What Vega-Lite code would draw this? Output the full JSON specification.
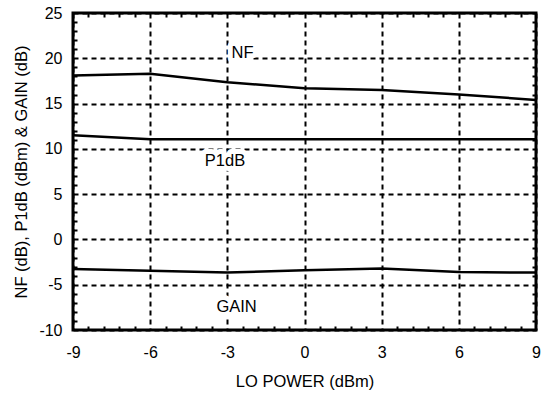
{
  "$schema": "https://vega.github.io/schema/vega-lite/v6.json",
  "width": 463,
  "height": 317,
  "autosize": {"type": "none"},
  "padding": {"left": 73, "top": 13, "right": 5, "bottom": 66},
  "background": "white",
  "config": {
    "view": {"stroke": "black", "strokeWidth": 3},
    "font": "Liberation Sans",
    "axis": {"labelColor": "black", "titleColor": "black", "labelFont": "Liberation Sans", "titleFont": "Liberation Sans", "labelFontSize": 16, "titleFontSize": 16.5, "titleFontWeight": "normal"}
  },
  "datasets": {
    "lines": [
      {"series": "NF", "lo": -9, "val": 18.1},
      {"series": "NF", "lo": -6, "val": 18.3},
      {"series": "NF", "lo": -3, "val": 17.35},
      {"series": "NF", "lo": 0, "val": 16.7},
      {"series": "NF", "lo": 3, "val": 16.5},
      {"series": "NF", "lo": 6, "val": 16.0},
      {"series": "NF", "lo": 9, "val": 15.4},
      {"series": "P1dB", "lo": -9, "val": 11.5},
      {"series": "P1dB", "lo": -6, "val": 11.05},
      {"series": "P1dB", "lo": -3, "val": 11.05},
      {"series": "P1dB", "lo": 0, "val": 11.05},
      {"series": "P1dB", "lo": 3, "val": 11.05},
      {"series": "P1dB", "lo": 6, "val": 11.05},
      {"series": "P1dB", "lo": 9, "val": 11.05},
      {"series": "GAIN", "lo": -9, "val": -3.26},
      {"series": "GAIN", "lo": -6, "val": -3.45},
      {"series": "GAIN", "lo": -3, "val": -3.66},
      {"series": "GAIN", "lo": 0, "val": -3.4},
      {"series": "GAIN", "lo": 3, "val": -3.2},
      {"series": "GAIN", "lo": 6, "val": -3.6},
      {"series": "GAIN", "lo": 9, "val": -3.66}
    ],
    "labels": [
      {"text": "NF", "lo": -2.41, "val": 20.58},
      {"text": "P1dB", "lo": -3.09, "val": 8.7},
      {"text": "GAIN", "lo": -2.64, "val": -7.43}
    ]
  },
  "resolve": {"axis": {"x": "independent", "y": "independent"}},
  "layer": [
    {
      "data": {"name": "lines"},
      "transform": [{"filter": "datum.series === 'NF'"}],
      "mark": {"type": "line", "color": "black", "strokeWidth": 2.5},
      "encoding": {
        "x": {"field": "lo", "type": "quantitative", "scale": {"domain": [-9, 9], "nice": false, "zero": false},
          "axis": {"orient": "bottom", "values": [-9, -6, -3, 0, 3, 6, 9], "labelExpr": "replace(datum.label, '\u2212', '-')", "grid": true, "gridColor": "black", "gridWidth": 2, "gridDash": [5, 4], "gridOpacity": 1, "domain": false, "ticks": false, "tickSize": 0, "labelPadding": 22, "labelBaseline": "middle", "labelFlush": false, "title": "LO POWER (dBm)", "titleX": 231.5, "titleY": 51, "titleBaseline": "middle"}},
        "y": {"field": "val", "type": "quantitative", "scale": {"domain": [-10, 25], "nice": false, "zero": false},
          "axis": {"orient": "left", "values": [-10, -5, 0, 5, 10, 15, 20, 25], "labelExpr": "replace(datum.label, '\u2212', '-')", "grid": true, "gridColor": "black", "gridWidth": 2, "gridDash": [5, 4], "gridOpacity": 1, "domain": false, "ticks": false, "tickSize": 0, "labelPadding": 11, "labelFlush": false, "title": "NF (dB), P1dB (dBm) & GAIN (dB)", "titleX": -52, "titleY": 158.5, "titleAngle": -90, "titleBaseline": "middle"}}
      }
    },
    {
      "data": {"name": "lines"},
      "transform": [{"filter": "datum.series !== 'NF'"}],
      "mark": {"type": "line", "color": "black", "strokeWidth": 2.5},
      "encoding": {
        "detail": {"field": "series"},
        "x": {"field": "lo", "type": "quantitative",
          "axis": {"orient": "bottom", "values": [-8.4, -7.8, -7.2, -6.6, -5.4, -4.8, -4.2, -3.6, -2.4, -1.8, -1.2, -0.6, 0.6, 1.2, 1.8, 2.4, 3.6, 4.2, 4.8, 5.4, 6.6, 7.2, 7.8, 8.4], "grid": false, "domain": false, "labels": false, "ticks": true, "tickSize": -4, "tickWidth": 2, "tickColor": "black", "title": null}},
        "y": {"field": "val", "type": "quantitative",
          "axis": {"orient": "left", "values": [-9, -8, -7, -6, -4, -3, -2, -1, 1, 2, 3, 4, 6, 7, 8, 9, 11, 12, 13, 14, 16, 17, 18, 19, 21, 22, 23, 24], "grid": false, "domain": false, "labels": false, "ticks": true, "tickSize": -4, "tickWidth": 2, "tickColor": "black", "title": null}}
      }
    },
    {
      "data": {"name": "labels"},
      "mark": {"type": "text", "color": "white", "stroke": "white", "strokeWidth": 10, "strokeJoin": "round", "font": "Liberation Sans", "fontSize": 16.5, "align": "center", "baseline": "middle"},
      "encoding": {
        "text": {"field": "text"},
        "x": {"field": "lo", "type": "quantitative", "axis": null},
        "y": {"field": "val", "type": "quantitative", "axis": null}
      }
    },
    {
      "data": {"name": "labels"},
      "mark": {"type": "text", "color": "black", "font": "Liberation Sans", "fontSize": 16.5, "align": "center", "baseline": "middle"},
      "encoding": {
        "text": {"field": "text"},
        "x": {"field": "lo", "type": "quantitative",
          "axis": {"orient": "top", "values": [-8.4, -7.8, -7.2, -6.6, -5.4, -4.8, -4.2, -3.6, -2.4, -1.8, -1.2, -0.6, 0.6, 1.2, 1.8, 2.4, 3.6, 4.2, 4.8, 5.4, 6.6, 7.2, 7.8, 8.4], "grid": false, "domain": false, "labels": false, "ticks": true, "tickSize": -4, "tickWidth": 2, "tickColor": "black", "title": null}},
        "y": {"field": "val", "type": "quantitative",
          "axis": {"orient": "right", "values": [-9, -8, -7, -6, -4, -3, -2, -1, 1, 2, 3, 4, 6, 7, 8, 9, 11, 12, 13, 14, 16, 17, 18, 19, 21, 22, 23, 24], "grid": false, "domain": false, "labels": false, "ticks": true, "tickSize": -4, "tickWidth": 2, "tickColor": "black", "title": null}}
      }
    }
  ]
}
